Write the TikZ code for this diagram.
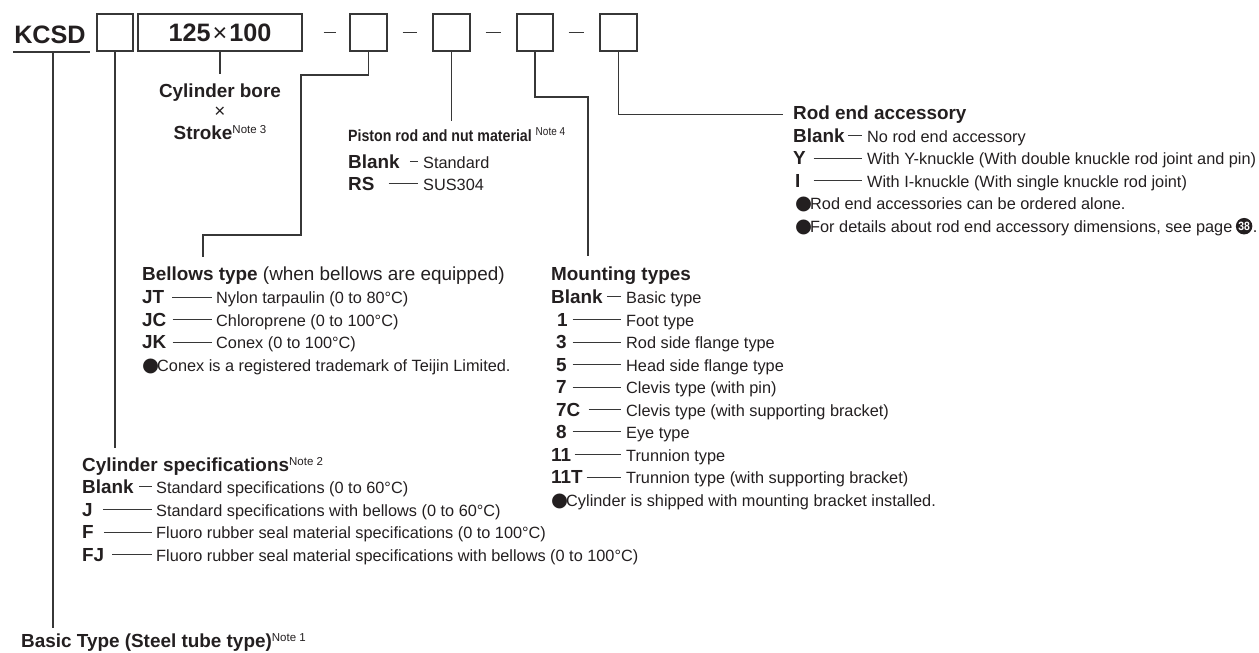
\documentclass[tikz,border=0pt]{standalone}
\usepackage{fontspec}
\setmainfont{Liberation Sans}
\newfontfamily\symfont{DejaVu Sans}
\newfontfamily\condfont[FakeStretch=0.87]{Liberation Sans}
\definecolor{ink}{RGB}{35,31,32}
\definecolor{lc}{RGB}{55,55,55}
\newcommand\fbig{\fontsize{25.2}{30}\selectfont\bfseries}
\newcommand\fhd{\fontsize{18.9}{22}\selectfont}
\newcommand\fdesc{\fontsize{16.3}{20}\selectfont}
\newcommand\fpiston{\condfont\fontsize{16.3}{20}\selectfont\bfseries}
\newcommand\mynote[1]{\raisebox{5.5pt}{\fontsize{11.5}{12}\selectfont\mdseries #1}}
\newcommand\bul{{\symfont\fontsize{19.5}{20}\selectfont ●}\kern-2pt}
\begin{document}
\begin{tikzpicture}[x=1pt,y=-1pt,
  box/.style={draw=lc, line width=1.2pt, minimum height=37pt, inner sep=0pt, anchor=center},
  lbl/.style={anchor=base west, inner sep=0pt, font=\fhd\bfseries, text=ink},
  hd/.style={anchor=base west, inner sep=0pt, font=\fhd\bfseries, text=ink},
  dsc/.style={anchor=base west, inner sep=0pt, font=\fdesc, text=ink},
  conn/.style={draw=lc, line width=1.1pt},
  dashl/.style={draw=lc, line width=1pt}]
\useasboundingbox (0,0) rectangle (1259,653);

% ---- top code row ----
\node[anchor=base, inner sep=0pt, font=\fbig, text=ink] (kcsd) at (50,43) {KCSD};
\coordinate (kul) at (13,52);
\coordinate (kur) at (90,52);
\coordinate (kbot) at (53,52);
\draw[conn] (kul) -- (kur);

\node[box, minimum width=36pt] (b1) at (115,32.5) {};
\node[box, minimum width=164pt, font=\fbig, text=ink] (b2) at (220,32.5) {125\kern2pt{\mdseries ×}\kern2pt100};
\node[box, minimum width=37pt] (b3) at (368.5,32.5) {};
\node[box, minimum width=37pt] (b4) at (451.5,32.5) {};
\node[box, minimum width=36pt] (b5) at (535,32.5) {};
\node[box, minimum width=37pt] (b6) at (618.5,32.5) {};

\draw[conn, line width=1.3pt, shorten <=21pt, shorten >=13pt] (b2.east) -- (b3.west);
\draw[conn, line width=1.3pt, shorten <=15pt, shorten >=15pt] (b3.east) -- (b4.west);
\draw[conn, line width=1.3pt, shorten <=15pt, shorten >=15pt] (b4.east) -- (b5.west);
\draw[conn, line width=1.3pt, shorten <=15pt, shorten >=15pt] (b5.east) -- (b6.west);

% ---- cylinder bore x stroke ----
\node[anchor=base, inner sep=0pt, font=\fhd\bfseries, text=ink] (bore) at (220,97) {Cylinder bore};
\node[anchor=base, inner sep=0pt, font=\fhd, text=ink] (times) at (220,117.5) {×};
\node[anchor=base, inner sep=0pt, font=\fhd\bfseries, text=ink] (stroke) at (220,139) {Stroke\mynote{Note 3}};
\draw[conn, shorten >=9pt] (b2.south) -- (bore.north);

% ---- piston rod ----
\node[anchor=base west, inner sep=0pt, font=\fpiston, text=ink] (pist) at (348,141) {Piston rod and nut material \mynote{Note 4}};
\draw[conn, shorten >=6pt] (b4.south) -- (b4.south |- pist.north);
\node[lbl] (pbl) at (348,168) {Blank};
\node[dsc] (pbld) at (423,168) {Standard};
\node[lbl] (prs) at (348,190.5) {RS};
\node[dsc] (prsd) at (423,190.5) {SUS304};
\draw[dashl, shorten <=10pt, shorten >=5pt] (pbl.east) -- (pbl.east -| pbld.west);
\draw[dashl, shorten <=14pt, shorten >=5pt] (prs.east) -- (prs.east -| prsd.west);

% ---- rod end accessory ----
\node[hd] (rod) at (793,119.5) {Rod end accessory};
\draw[conn, shorten >=10pt] (b6.south) |- (rod.west);
\node[lbl] (rbl) at (793,142) {Blank};
\node[dsc] (rbld) at (867,142) {No rod end accessory};
\node[lbl] (ry) at (793,164.5) {Y};
\node[dsc] (ryd) at (867,164.5) {With Y-knuckle (With double knuckle rod joint and pin)};
\node[lbl] (ri) at (795,187) {I};
\node[dsc] (rid) at (867,187) {With I-knuckle (With single knuckle rod joint)};
\draw[dashl, shorten <=3pt, shorten >=5pt] (rbl.east) -- (rbl.east -| rbld.west);
\draw[dashl, shorten <=7.5pt, shorten >=5pt] (ry.east) -- (ry.east -| ryd.west);
\draw[dashl, shorten <=13pt, shorten >=5pt] (ri.east) -- (ri.east -| rid.west);
\node[dsc] (rb1) at (795,209.5) {\bul Rod end accessories can be ordered alone.};
\node[dsc] (rb2) at (795,232) {\bul For details about rod end accessory dimensions, see page};
\node[circle, fill=ink, inner sep=0pt, minimum size=16.5pt, text=white, font=\condfont\fontsize{12}{12}\selectfont\bfseries, anchor=west] (p38) at ([xshift=3pt,yshift=5.8pt]rb2.base east) {38};
\node[dsc] (dot) at (p38.east |- rb2.base) {.};

% ---- bellows type ----
\coordinate (b3a) at (301,75);
\coordinate (b3b) at (203,235);
\node[hd] (bell) at (142,280) {Bellows type {\mdseries(when bellows are equipped)}};
\draw[conn, shorten >=9pt] (b3.south) |- (b3a) |- (b3b) -- (b3b |- bell.north);
\node[lbl] (jt) at (142,303.5) {JT};
\node[dsc] (jtd) at (216,303.5) {Nylon tarpaulin (0 to 80°C)};
\node[lbl] (jc) at (142,326) {JC};
\node[dsc] (jcd) at (216,326) {Chloroprene (0 to 100°C)};
\node[lbl] (jk) at (142,348.5) {JK};
\node[dsc] (jkd) at (216,348.5) {Conex (0 to 100°C)};
\draw[dashl, shorten <=8pt, shorten >=4pt] (jt.east) -- (jt.east -| jtd.west);
\draw[dashl, shorten <=6pt, shorten >=4pt] (jc.east) -- (jc.east -| jcd.west);
\draw[dashl, shorten <=6pt, shorten >=4pt] (jk.east) -- (jk.east -| jkd.west);
\node[dsc] (jb) at (142,371) {\bul Conex is a registered trademark of Teijin Limited.};

% ---- mounting types ----
\coordinate (b5a) at (588,97);
\node[hd] (mount) at (551,280) {Mounting types};
\draw[conn, shorten >=10pt] (b5.south) |- (b5a) -- (b5a |- mount.north);
\node[lbl] (m0) at (551,303.5) {Blank};
\node[dsc] (m0d) at (626,303.5) {Basic type};
\node[lbl] (m1) at (557,326) {1};
\node[dsc] (m1d) at (626,326) {Foot type};
\node[lbl] (m3) at (556,348.5) {3};
\node[dsc] (m3d) at (626,348.5) {Rod side flange type};
\node[lbl] (m5) at (556,371) {5};
\node[dsc] (m5d) at (626,371) {Head side flange type};
\node[lbl] (m7) at (556,393.5) {7};
\node[dsc] (m7d) at (626,393.5) {Clevis type (with pin)};
\node[lbl] (m7c) at (556,416) {7C};
\node[dsc] (m7cd) at (626,416) {Clevis type (with supporting bracket)};
\node[lbl] (m8) at (556,438.5) {8};
\node[dsc] (m8d) at (626,438.5) {Eye type};
\node[lbl] (m11) at (551,461) {11};
\node[dsc] (m11d) at (626,461) {Trunnion type};
\node[lbl] (m11t) at (551,483.5) {11T};
\node[dsc] (m11td) at (626,483.5) {Trunnion type (with supporting bracket)};
\draw[dashl, shorten <=4pt, shorten >=5pt] (m0.east) -- (m0.east -| m0d.west);
\draw[dashl, shorten <=4.6pt, shorten >=5pt] (m1.east) -- (m1.east -| m1d.west);
\draw[dashl, shorten <=5.6pt, shorten >=5pt] (m3.east) -- (m3.east -| m3d.west);
\draw[dashl, shorten <=5.6pt, shorten >=5pt] (m5.east) -- (m5.east -| m5d.west);
\draw[dashl, shorten <=5.6pt, shorten >=5pt] (m7.east) -- (m7.east -| m7d.west);
\draw[dashl, shorten <=8pt, shorten >=5pt] (m7c.east) -- (m7c.east -| m7cd.west);
\draw[dashl, shorten <=5.6pt, shorten >=5pt] (m8.east) -- (m8.east -| m8d.west);
\draw[dashl, shorten <=3.2pt, shorten >=5pt] (m11.east) -- (m11.east -| m11d.west);
\draw[dashl, shorten <=3.8pt, shorten >=5pt] (m11t.east) -- (m11t.east -| m11td.west);
\node[dsc] (mb) at (551,506) {\bul Cylinder is shipped with mounting bracket installed.};

% ---- cylinder specifications ----
\node[hd] (cyl) at (82,471) {Cylinder specifications\mynote{Note 2}};
\draw[conn, shorten >=9pt] (b1.south) -- (b1.south |- cyl.north);
\node[lbl] (c0) at (82,493.5) {Blank};
\node[dsc] (c0d) at (156,493.5) {Standard specifications (0 to 60°C)};
\node[lbl] (cj) at (82,516) {J};
\node[dsc] (cjd) at (156,516) {Standard specifications with bellows (0 to 60°C)};
\node[lbl] (cf) at (82,538.5) {F};
\node[dsc] (cfd) at (156,538.5) {Fluoro rubber seal material specifications (0 to 100°C)};
\node[lbl] (cfj) at (82,561) {FJ};
\node[dsc] (cfjd) at (156,561) {Fluoro rubber seal material specifications with bellows (0 to 100°C)};
\draw[dashl, shorten <=5pt, shorten >=4pt] (c0.east) -- (c0.east -| c0d.west);
\draw[dashl, shorten <=10pt, shorten >=4pt] (cj.east) -- (cj.east -| cjd.west);
\draw[dashl, shorten <=10pt, shorten >=4pt] (cf.east) -- (cf.east -| cfd.west);
\draw[dashl, shorten <=8pt, shorten >=4pt] (cfj.east) -- (cfj.east -| cfjd.west);

% ---- basic type ----
\node[hd] (basic) at (21,647) {Basic Type (Steel tube type)\mynote{Note 1}};
\draw[conn, shorten >=5pt] (kbot) -- (kbot |- basic.north);
\end{tikzpicture}
\end{document}
